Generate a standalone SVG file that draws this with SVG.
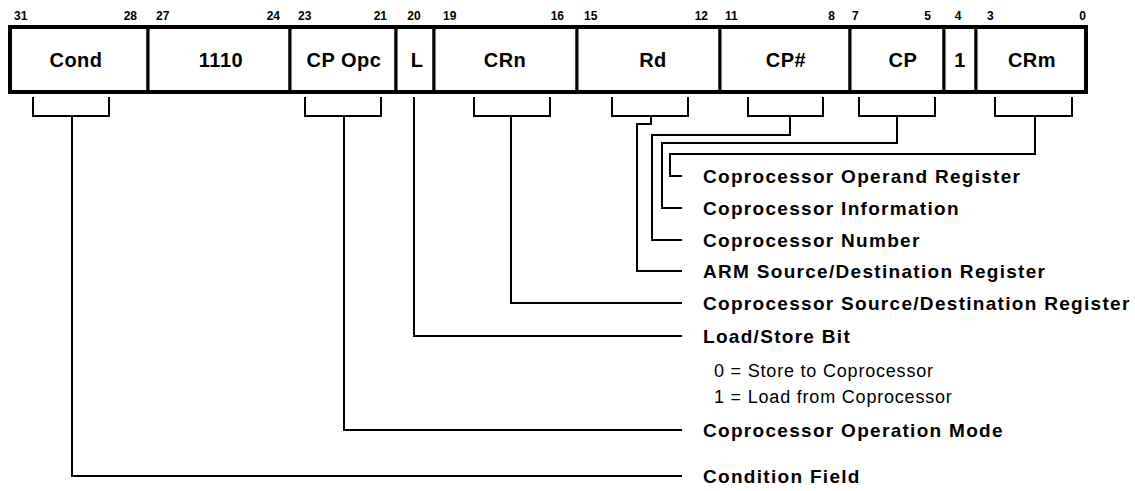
<svg xmlns="http://www.w3.org/2000/svg" width="1135" height="491" viewBox="0 0 1135 491">
<style>
.fld{fill:#fff;stroke:#000;stroke-width:3}
.outer{fill:none;stroke:#000;stroke-width:4}
.fl{font-family:"Liberation Sans",Arial,sans-serif;font-weight:bold;font-size:20px;text-anchor:middle;fill:#000;letter-spacing:0.5px}
.bit{font-family:"Liberation Sans",Arial,sans-serif;font-weight:bold;font-size:12px;fill:#000}
.e{text-anchor:end}
.m{text-anchor:middle}
.lab{font-family:"Liberation Sans",Arial,sans-serif;font-weight:bold;font-size:19px;fill:#000;letter-spacing:1.3px}
.note{font-family:"Liberation Sans",Arial,sans-serif;font-size:18px;fill:#000;letter-spacing:0.8px}
.c{fill:none;stroke:#000;stroke-width:2}
</style>
<g id="bits">
<text class="bit" x="14" y="20">31</text><text class="bit e" x="137" y="20">28</text>
<text class="bit" x="156" y="20">27</text><text class="bit e" x="280" y="20">24</text>
<text class="bit" x="298" y="20">23</text><text class="bit e" x="387" y="20">21</text>
<text class="bit m" x="414" y="20">20</text>
<text class="bit" x="443" y="20">19</text><text class="bit e" x="564" y="20">16</text>
<text class="bit" x="584" y="20">15</text><text class="bit e" x="708" y="20">12</text>
<text class="bit" x="725" y="20">11</text><text class="bit e" x="835" y="20">8</text>
<text class="bit" x="852" y="20">7</text><text class="bit e" x="931" y="20">5</text>
<text class="bit m" x="958" y="20">4</text>
<text class="bit" x="987" y="20">3</text><text class="bit e" x="1086" y="20">0</text>
</g>
<g id="f-cond"><rect class="fld" x="10" y="27" width="138" height="65"/><text class="fl" x="76" y="67">Cond</text></g>
<g id="f-1110"><rect class="fld" x="148" y="27" width="142" height="65"/><text class="fl" x="221" y="67">1110</text></g>
<g id="f-cpopc"><rect class="fld" x="290" y="27" width="106" height="65"/><text class="fl" x="344" y="67">CP Opc</text></g>
<g id="f-l"><rect class="fld" x="396" y="27" width="38" height="65"/><text class="fl" x="417" y="67">L</text></g>
<g id="f-crn"><rect class="fld" x="434" y="27" width="143" height="65"/><text class="fl" x="505" y="67">CRn</text></g>
<g id="f-rd"><rect class="fld" x="577" y="27" width="143" height="65"/><text class="fl" x="653" y="67">Rd</text></g>
<g id="f-cpnum"><rect class="fld" x="720" y="27" width="130" height="65"/><text class="fl" x="786" y="67">CP#</text></g>
<g id="f-cp"><rect class="fld" x="850" y="27" width="94" height="65"/><text class="fl" x="903" y="67">CP</text></g>
<g id="f-one"><rect class="fld" x="944" y="27" width="32" height="65"/><text class="fl" x="960" y="67">1</text></g>
<g id="f-crm"><rect class="fld" x="976" y="27" width="110" height="65"/><text class="fl" x="1032" y="67">CRm</text></g>
<rect class="outer" x="10" y="27" width="1076" height="65"/>
<g id="connectors">
<path class="c" d="M33 97V116H109V97M72 116V476H682"/>
<path class="c" d="M305 97V116H381V97M344 116V430H682"/>
<path class="c" d="M414 97V336H682"/>
<path class="c" d="M474 97V116H550V97M511 116V303H682"/>
<path class="c" d="M612 97V116H688V97M651 116V124H637V271H682"/>
<path class="c" d="M748 97V116H823V97M790 116V135H652V240H682"/>
<path class="c" d="M859 97V116H935V97M897 116V143H662V208H682"/>
<path class="c" d="M995 97V116H1072V97M1035 116V154H670V176H682"/>
</g>
<g id="l-operand"><text class="lab" x="703" y="183">Coprocessor Operand Register</text></g>
<g id="l-info"><text class="lab" x="703" y="215">Coprocessor Information</text></g>
<g id="l-number"><text class="lab" x="703" y="247">Coprocessor Number</text></g>
<g id="l-arm"><text class="lab" x="703" y="278">ARM Source/Destination Register</text></g>
<g id="l-cpsd"><text class="lab" x="703" y="310">Coprocessor Source/Destination Register</text></g>
<g id="l-ls"><text class="lab" x="703" y="343">Load/Store Bit</text>
<text class="note" x="714" y="377">0 = Store to Coprocessor</text>
<text class="note" x="714" y="403">1 = Load from Coprocessor</text></g>
<g id="l-opmode"><text class="lab" x="703" y="437">Coprocessor Operation Mode</text></g>
<g id="l-cond"><text class="lab" x="703" y="483">Condition Field</text></g>
</svg>
